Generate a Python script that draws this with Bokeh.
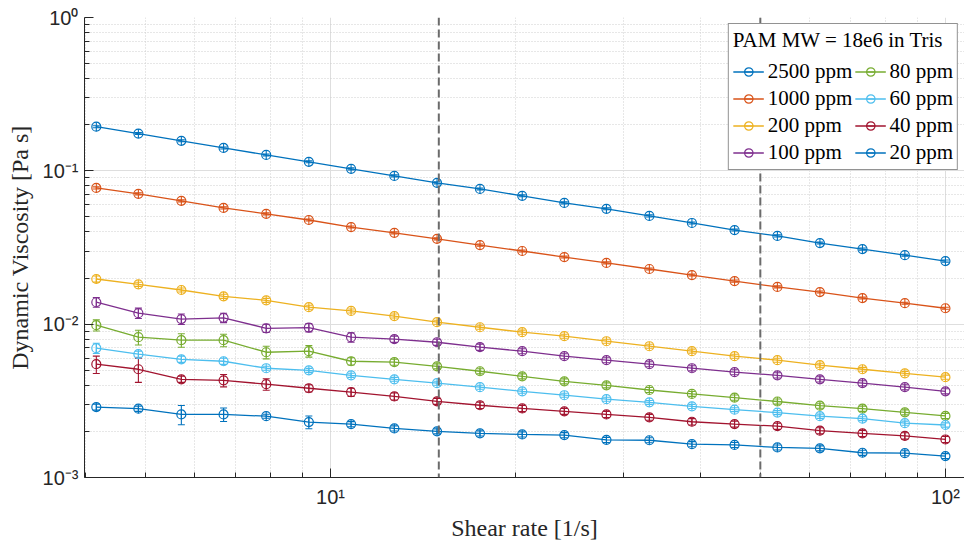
from bokeh.plotting import figure
from bokeh.models import (Range1d, FixedTicker, CustomJSTickFormatter, Whisker, TeeHead,
                          ColumnDataSource, Legend, LegendItem, Span)
from bokeh.embed import file_html
from bokeh.resources import INLINE
import math

# ---------------- data ----------------
shear_rate = [4.16, 4.87, 5.72, 6.70, 7.86, 9.22, 10.8, 12.7, 14.9, 17.5, 20.5,
              24.0, 28.1, 33.0, 38.7, 45.4, 53.3, 62.5, 73.3, 85.9, 100.0]

series_labels = ["2500 ppm", "1000 ppm", "200 ppm", "100 ppm",
                 "80 ppm", "60 ppm", "40 ppm", "20 ppm"]

visc_2500 = [0.194, 0.175, 0.157, 0.141, 0.127, 0.1145, 0.103, 0.0927, 0.0835, 0.0762, 0.0687,
             0.0618, 0.0565, 0.0508, 0.0457, 0.0411, 0.0376, 0.0338, 0.0309, 0.0282, 0.0258]
visc_1000 = [0.0774, 0.0708, 0.0637, 0.0573, 0.0524, 0.0478, 0.043, 0.0394, 0.036, 0.0328, 0.030,
             0.0274, 0.0251, 0.0229, 0.0209, 0.0191, 0.0175, 0.0162, 0.0148, 0.0137, 0.0127]
visc_200 = [0.0197, 0.0182, 0.0167, 0.0152, 0.0143, 0.0129, 0.0122, 0.0113, 0.0103, 0.00955, 0.00887,
            0.00835, 0.00774, 0.00718, 0.00667, 0.00618, 0.00582, 0.0054, 0.00508, 0.00478, 0.00451]
visc_100 = [0.0139, 0.0118, 0.0108, 0.0110, 0.0094, 0.0095, 0.00822, 0.00798, 0.00762, 0.00708, 0.00667,
            0.00618, 0.00582, 0.00548, 0.00516, 0.00486, 0.00464, 0.00437, 0.00412, 0.00388, 0.00365]
visc_80 = [0.00985, 0.00822, 0.00786, 0.00786, 0.00656, 0.00667, 0.00573, 0.00565, 0.00531, 0.00493, 0.00457,
           0.00424, 0.00399, 0.00372, 0.00351, 0.00332, 0.00313, 0.00294, 0.00281, 0.00266, 0.00252]
visc_60 = [0.00697, 0.00637, 0.0059, 0.00573, 0.00516, 0.005, 0.00464, 0.00437, 0.00412, 0.00388, 0.00365,
           0.00344, 0.00324, 0.00309, 0.00291, 0.00277, 0.00265, 0.00251, 0.00242, 0.00226, 0.0022]
visc_40 = [0.00548, 0.00508, 0.00437, 0.0043, 0.00406, 0.00382, 0.0036, 0.00338, 0.00314, 0.00296, 0.00282,
           0.0027, 0.00258, 0.00247, 0.00231, 0.00223, 0.00216, 0.00202, 0.00194, 0.00187, 0.00177]
visc_20 = [0.00288, 0.00281, 0.00258, 0.00258, 0.00251, 0.0023, 0.00223, 0.00209, 0.002, 0.00194, 0.00191,
           0.00189, 0.00176, 0.00175, 0.00165, 0.00163, 0.00157, 0.00155, 0.00145, 0.00144, 0.00138]

err_2500 = [0.0029, 0.0026, 0.0024, 0.0021, 0.0019, 0.0017, 0.0015, 0.0014, 0.0013, 0.0011, 0.0010,
            0.0009, 0.0008, 0.0008, 0.0007, 0.0006, 0.0006, 0.0005, 0.0005, 0.0004, 0.0004]
err_1000 = [0.0012, 0.0011, 0.0010, 0.0009, 0.0008, 0.0007, 0.00065, 0.0006, 0.00054, 0.0005, 0.00045,
            0.0004, 0.00038, 0.00034, 0.00031, 0.00029, 0.00026, 0.00024, 0.00022, 0.0002, 0.00019]
err_200 = [0.0009, 0.00055, 0.0005, 0.00046, 0.00043, 0.00039, 0.00037, 0.00034, 0.00031, 0.00029, 0.00027,
           0.00025, 0.00023, 0.00022, 0.0002, 0.00019, 0.00017, 0.00016, 0.00015, 0.00014, 0.00014]
err_100 = [0.00101, 0.00092, 0.00084, 0.00077, 0.00058, 0.00059, 0.00058, 0.00037, 0.00035, 0.00033, 0.00025,
           0.00023, 0.00022, 0.00021, 0.0002, 0.00018, 0.00018, 0.00017, 0.00016, 0.00015, 0.00014]
err_80 = [0.00082, 0.0009, 0.00079, 0.00074, 0.00062, 0.00057, 0.00031, 0.00026, 0.0002, 0.00019, 0.00017,
          0.00016, 0.00015, 0.00014, 0.00013, 0.00013, 0.00012, 0.00011, 0.00011, 0.0001, 0.0001]
err_60 = [0.00054, 0.00029, 0.00027, 0.00026, 0.00015, 0.00015, 0.00014, 0.00013, 0.00012, 0.00012, 0.00011,
          0.0001, 0.0001, 0.00009, 0.00009, 0.00008, 0.00008, 0.00008, 0.00007, 0.00007, 0.00007]
err_40 = [0.00071, 0.00091, 0.0002, 0.0004, 0.00035, 0.00021, 0.00022, 0.00018, 0.00014, 0.00014, 0.00013,
          0.00012, 0.00012, 0.00011, 0.00011, 0.0001, 0.0001, 0.00009, 0.00009, 0.00009, 0.00008]
err_20 = [0.00013, 0.00011, 0.00037, 0.00026, 0.000075, 0.00022, 0.000085, 0.00008, 0.000076, 0.000074, 0.000073,
          0.000072, 0.000067, 0.000066, 0.000063, 0.000062, 0.00006, 0.000059, 0.000055, 0.000055, 0.000052]

region_bounds = [15, 50]

legend_title = "PAM MW = 18e6 in Tris"
colors = ["#0072BD", "#D95319", "#EDB120", "#7E2F8E", "#77AC30", "#4DBEEE", "#A2142F", "#0072BD"]

viscosities = [visc_2500, visc_1000, visc_200, visc_100, visc_80, visc_60, visc_40, visc_20]
errors = [err_2500, err_1000, err_200, err_100, err_80, err_60, err_40, err_20]

# ---------------- figure ----------------
SERIF = "Liberation Serif"
SANS = "Liberation Sans"
AX_COLOR = "#262626"

p = figure(width=964, height=543, x_axis_type="log", y_axis_type="log",
           x_range=Range1d(3.98, 107.4), y_range=Range1d(1e-3, 1),
           output_backend="svg", toolbar_location=None,
           min_border_left=84, min_border_top=17, min_border_right=0, min_border_bottom=66)
p.outline_line_color = None
p.background_fill_color = "white"

sup_fmt = CustomJSTickFormatter(code="""
const e = Math.round(Math.log10(tick));
const m = {'-':'\u207b','0':'\u2070','1':'\u00b9','2':'\u00b2','3':'\u00b3','4':'\u2074',
           '5':'\u2075','6':'\u2076','7':'\u2077','8':'\u2078','9':'\u2079'};
return '10' + String(e).split('').map(c => m[c]).join('');
""")

x_major = [10, 100]
x_minor = [k * 10 ** d for d in (0, 1) for k in range(2, 10)] + [200]
y_major = [1e-3, 1e-2, 1e-1, 1]
y_minor = [k * 10 ** d for d in (-3, -2, -1) for k in range(2, 10)]

p.xaxis.ticker = FixedTicker(ticks=x_major, minor_ticks=x_minor)
p.yaxis.ticker = FixedTicker(ticks=y_major, minor_ticks=y_minor)
for ax in (p.xaxis, p.yaxis):
    ax.formatter = sup_fmt
    ax.major_label_text_font = SANS
    ax.major_label_text_font_size = "20px"
    ax.major_label_text_color = AX_COLOR
    ax.axis_line_color = AX_COLOR
    ax.major_tick_line_color = AX_COLOR
    ax.minor_tick_line_color = AX_COLOR
    ax.major_tick_in = 9
    ax.major_tick_out = 0
    ax.minor_tick_in = 5
    ax.minor_tick_out = 0
    ax.axis_label_text_font = SERIF
    ax.axis_label_text_font_size = "24px"
    ax.axis_label_text_font_style = "normal"
    ax.axis_label_text_color = AX_COLOR

p.xaxis.axis_label = "Shear rate [1/s]"
p.yaxis.axis_label = "Dynamic Viscosity [Pa s]"
p.xaxis.major_label_standoff = 8
p.yaxis.major_label_standoff = 6
p.xaxis.axis_label_standoff = 4
p.yaxis.axis_label_standoff = 7

for g in (p.xgrid, p.ygrid):
    g.grid_line_color = "#dedede"
    g.grid_line_width = 1
    g.minor_grid_line_color = "#cfcfcf"
    g.minor_grid_line_dash = "1 2"
    g.minor_grid_line_width = 1

for xb in region_bounds:
    p.add_layout(Span(location=xb, dimension="height", line_color="#6b6b6b",
                      line_width=2, line_dash="8 4"))

items = []
for lab, vals, errs, col in zip(series_labels, viscosities, errors, colors):
    src = ColumnDataSource(dict(x=shear_rate, y=vals,
                                lo=[v - e for v, e in zip(vals, errs)],
                                hi=[v + e for v, e in zip(vals, errs)]))
    ln = p.line("x", "y", source=src, line_color=col, line_width=1.3)
    wh = Whisker(base="x", lower="lo", upper="hi", source=src, dimension="height",
                 line_color=col, line_width=1.1,
                 upper_head=TeeHead(size=7, line_color=col, line_width=1.1),
                 lower_head=TeeHead(size=7, line_color=col, line_width=1.1))
    p.add_layout(wh)
    mk = p.scatter("x", "y", source=src, marker="circle", size=9,
                   fill_color=None, line_color=col, line_width=1.2)
    bar = p.scatter("x", "y", source=src, marker="dash", angle=math.pi / 2, size=9,
                    line_color=col, line_width=1.1)
    items.append(LegendItem(label=lab, renderers=[ln, mk, bar]))

legend = Legend(items=items, location="top_right", orientation="vertical", nrows=4,
                title=legend_title)
legend.title_text_font = SERIF
legend.title_text_font_size = "21px"
legend.title_text_font_style = "normal"
legend.title_text_color = "black"
legend.title_standoff = 6
legend.label_text_font = SERIF
legend.label_text_font_size = "21px"
legend.label_text_color = "black"
legend.glyph_width = 31
legend.glyph_height = 21
legend.label_height = 21
legend.label_standoff = 4
legend.spacing = 2
legend.padding = 4
legend.margin = 6
legend.border_line_color = AX_COLOR
legend.border_line_width = 1
legend.background_fill_color = "white"
legend.background_fill_alpha = 1
p.add_layout(legend)

open("out.html", "w").write(file_html(p, INLINE))
